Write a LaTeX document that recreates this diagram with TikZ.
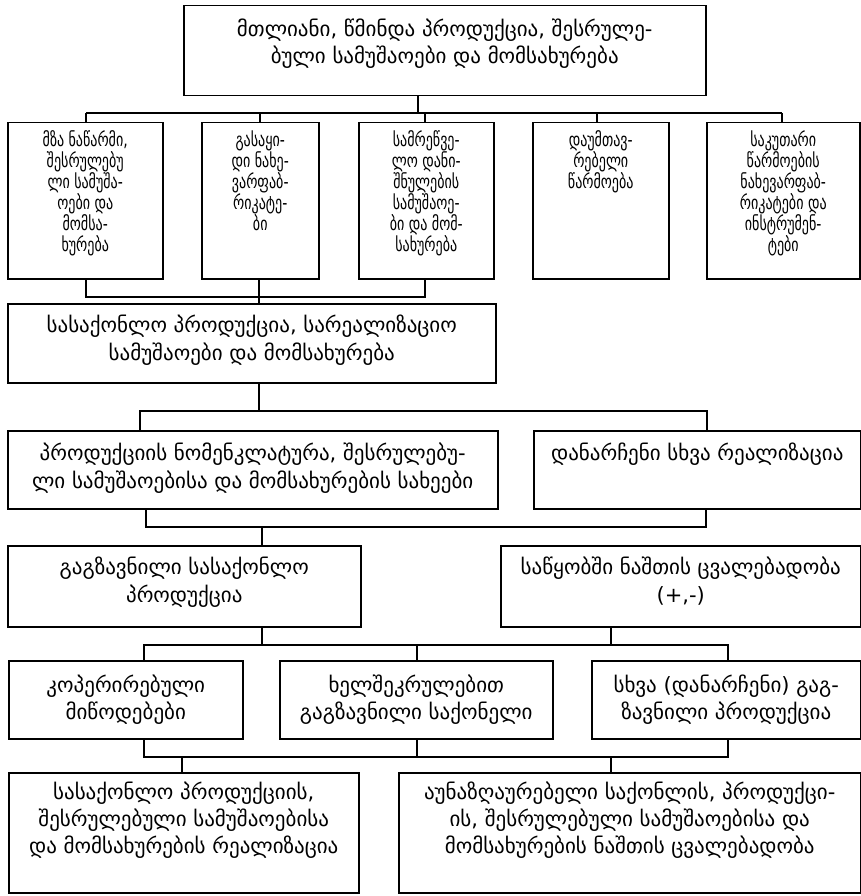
\documentclass[tikz,border=0pt]{standalone}
\usepackage{fontspec}
\setmainfont{DejaVu Sans}
\newfontfamily\narrowgeo[FakeStretch=0.74]{DejaVu Sans}
\newcommand{\bx}[8]{%
  \node[box] (#1) at (#2pt,-#3pt) {\parbox[c][\dimexpr #5pt-#3pt\relax][t]{\dimexpr #4pt-#2pt\relax}{\centering\fontsize{21}{#7}\selectfont\vspace*{#6pt}#8\par}};}
\newcommand{\nbx}[8]{%
  \node[box] (#1) at (#2pt,-#3pt) {\parbox[c][\dimexpr #5pt-#3pt\relax][t]{\dimexpr #4pt-#2pt\relax}{\centering\narrowgeo\fontsize{19}{#7}\selectfont\vspace*{#6pt}#8\par}};}
\tikzset{
  box/.style={draw, line width=1.5pt, inner sep=0pt, anchor=north west},
  conn/.style={line width=1.5pt},
}
\begin{document}
\begin{tikzpicture}[x=1pt,y=1pt]
\useasboundingbox (0,0) rectangle (861,-896);
% top
\bx{top}{183}{5}{705}{95}{13}{27}{მთლიანი, წმინდა პროდუქცია, შესრულე-\\ბული სამუშაოები და მომსახურება}
% row 2
\nbx{ra}{7}{122}{162}{278}{8}{21}{მზა ნაწარმი,\\შესრულებუ\\ლი სამუშა-\\ოები და\\მომსა-\\ხურება}
\nbx{rb}{201}{122}{318}{278}{8}{21}{გასაყი-\\დი ნახე-\\ვარფაბ-\\რიკატე-\\ბი}
\nbx{rc}{358}{122}{493}{278}{8}{21}{სამრეწვე-\\ლო დანი-\\შნულების\\სამუშაოე-\\ბი და მომ-\\სახურება}
\nbx{rd}{532}{122}{668}{278}{8}{21}{დაუმთავ-\\რებელი\\წარმოება}
\nbx{re}{706}{122}{859}{278}{8}{21}{საკუთარი\\წარმოების\\ნახევარფაბ-\\რიკატები და\\ინსტრუმენ-\\ტები}
% row 3
\bx{s}{7}{303}{495}{382}{11}{28}{სასაქონლო პროდუქცია, სარეალიზაციო\\სამუშაოები და მომსახურება}
% row 4
\bx{na}{7}{430}{497}{508}{12}{28}{პროდუქციის ნომენკლატურა, შესრულებუ-\\ლი სამუშაოებისა და მომსახურების სახეები}
\bx{nb}{533}{430}{860}{508}{12}{28}{დანარჩენი სხვა რეალიზაცია}
% row 5
\bx{ga}{7}{545}{360}{626}{11}{28}{გაგზავნილი სასაქონლო\\პროდუქცია}
\bx{gb}{500}{545}{860}{626}{11}{28}{საწყობში ნაშთის ცვალებადობა\\(+,-)}
% row 6
\bx{ka}{8}{660}{242}{738}{14}{27}{კოპერირებული\\მიწოდებები}
\bx{kb}{279}{660}{552}{738}{14}{27}{ხელშეკრულებით\\გაგზავნილი საქონელი}
\bx{kc}{591}{660}{860}{738}{14}{27}{სხვა (დანარჩენი) გაგ-\\ზავნილი პროდუქცია}
% row 7
\bx{fa}{8}{772}{358}{892}{9}{27}{სასაქონლო პროდუქციის,\\შესრულებული სამუშაოებისა\\და მომსახურების რეალიზაცია}
\bx{fb}{398}{772}{860}{892}{9}{27}{აუნაზღაურებელი საქონლის, პროდუქცი-\\ის, შესრულებული სამუშაოებისა და\\მომსახურების ნაშთის ცვალებადობა}
% bus 1
\coordinate (t1) at (418,-113);
\coordinate (t1a) at (86,-113);
\coordinate (t1b) at (260,-113);
\coordinate (t1c) at (425,-113);
\coordinate (t1d) at (597,-113);
\coordinate (t1e) at (782,-113);
\draw[conn] (top.south -| t1) -- (t1);
\draw[conn] (t1a) -- (t1e);
\draw[conn] (t1a) -- (ra.north -| t1a);
\draw[conn] (t1b) -- (rb.north -| t1b);
\draw[conn] (t1c) -- (rc.north -| t1c);
\draw[conn] (t1d) -- (rd.north -| t1d);
\draw[conn] (t1e) -- (re.north -| t1e);
% bus 2
\coordinate (t2a) at (86,-297);
\coordinate (t2b) at (259,-297);
\coordinate (t2c) at (425,-297);
\draw[conn] (ra.south -| t2a) -- (t2a) -- (t2c) -- (rc.south -| t2c);
\draw[conn] (rb.south -| t2b) -- (s.north -| t2b);
% bus 3
\coordinate (t3) at (259,-411);
\coordinate (t3a) at (140,-411);
\coordinate (t3b) at (707,-411);
\draw[conn] (s.south -| t3) -- (t3);
\draw[conn] (na.north -| t3a) -- (t3a) -- (t3b) -- (nb.north -| t3b);
% bus 4
\coordinate (t4) at (262,-527);
\coordinate (t4a) at (146,-527);
\coordinate (t4b) at (706,-527);
\draw[conn] (na.south -| t4a) -- (t4a) -- (t4b) -- (nb.south -| t4b);
\draw[conn] (t4) -- (ga.north -| t4);
% bus 5
\coordinate (t5a) at (144,-645);
\coordinate (t5b) at (417,-645);
\coordinate (t5c) at (728,-645);
\coordinate (t5l) at (262,-645);
\coordinate (t5r) at (611,-645);
\draw[conn] (ga.south -| t5l) -- (t5l);
\draw[conn] (gb.south -| t5r) -- (t5r);
\draw[conn] (ka.north -| t5a) -- (t5a) -- (t5c) -- (kc.north -| t5c);
\draw[conn] (t5b) -- (kb.north -| t5b);
% bus 6
\coordinate (t6a) at (144,-757);
\coordinate (t6b) at (417,-757);
\coordinate (t6c) at (728,-757);
\coordinate (t6l) at (182,-757);
\coordinate (t6r) at (611,-757);
\draw[conn] (ka.south -| t6a) -- (t6a) -- (t6c) -- (kc.south -| t6c);
\draw[conn] (kb.south -| t6b) -- (t6b);
\draw[conn] (t6l) -- (fa.north -| t6l);
\draw[conn] (t6r) -- (fb.north -| t6r);
\end{tikzpicture}
\end{document}
